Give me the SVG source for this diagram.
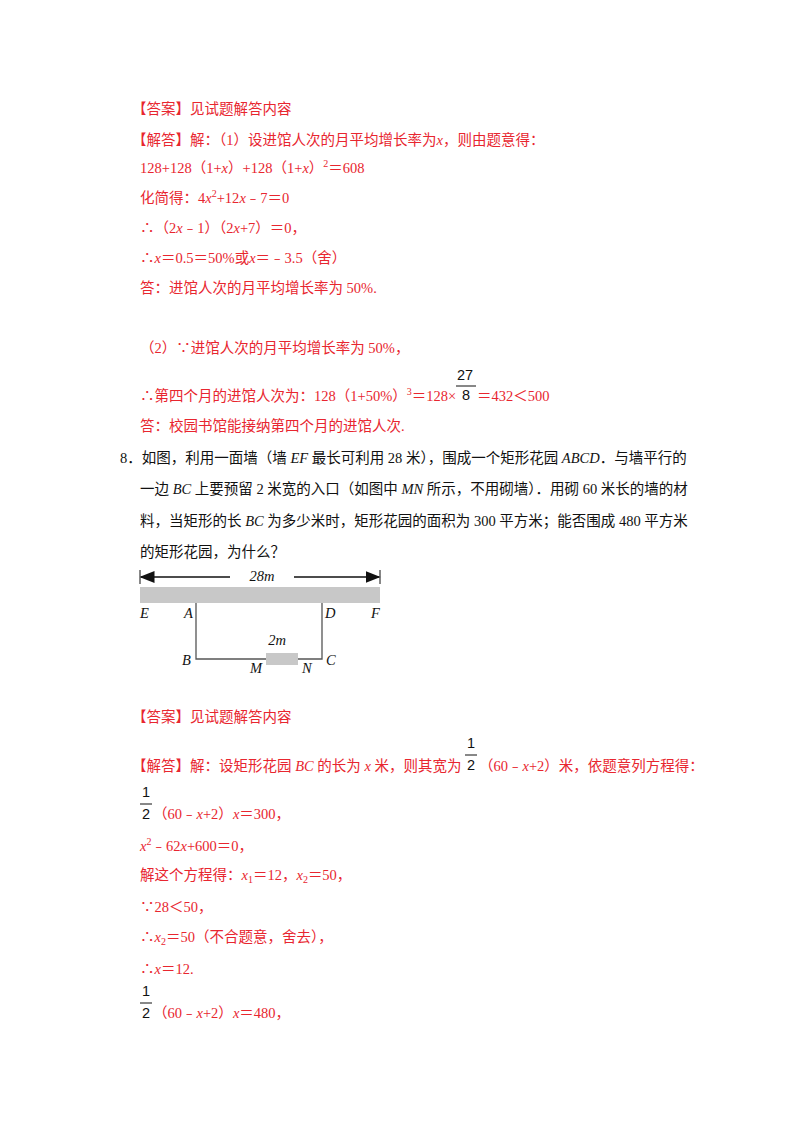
<svg xmlns="http://www.w3.org/2000/svg" width="800" height="1132" viewBox="0 0 800 1132">
<style>
text{font-family:"Liberation Serif","Noto Sans CJK SC",serif;font-size:14.5px}
.r{fill:#e8262f}
.k{fill:#111}
.i{font-style:italic}
.s{font-family:"Liberation Sans",sans-serif}
</style>
<defs><marker id="a" markerWidth="10" markerHeight="8" refX="9" refY="4" orient="auto"><path d="M0,0L10,4L0,8z" fill="#111"/></marker></defs>
<rect width="800" height="1132" fill="#fff"/>
<g class="r">
<text x="132" y="114" class="r">【答案】见试题解答内容</text>
<text x="132" y="145" class="r">【解答】解：（1）设进馆人次的月平均增长率为<tspan class="i">x</tspan>，则由题意得：</text>
<text x="140" y="173" class="r">128+128（1+<tspan class="i">x</tspan>）+128（1+<tspan class="i">x</tspan>）<tspan dy="-6" font-size="10">2</tspan><tspan dy="6">＝608</tspan></text>
<text x="140" y="203" class="r">化简得：4<tspan class="i">x</tspan><tspan dy="-6" font-size="10">2</tspan><tspan dy="6">+12</tspan><tspan class="i">x</tspan>﹣7＝0</text>
<text x="140" y="233" class="r">∴（2<tspan class="i">x</tspan>﹣1）（2<tspan class="i">x</tspan>+7）＝0，</text>
<text x="140" y="263" class="r">∴<tspan class="i">x</tspan>＝0.5＝50%或<tspan class="i">x</tspan>＝﹣3.5（舍）</text>
<text x="140" y="293" class="r">答：进馆人次的月平均增长率为 50%.</text>
<text x="140" y="353" class="r">（2）∵进馆人次的月平均增长率为 50%，</text>
<text x="140" y="401" class="r">∴第四个月的进馆人次为：128（1+50%）<tspan dy="-6" font-size="10">3</tspan><tspan dy="6">＝128×</tspan></text>
<text x="457" y="380" class="k s" font-size="14">27</text>
<line x1="456" y1="386" x2="476" y2="386" stroke="#111"/>
<text x="462" y="400" class="k s" font-size="14">8</text>
<text x="477" y="401" class="r">＝432＜500</text>
<text x="140" y="431" class="r">答：校园书馆能接纳第四个月的进馆人次.</text>
</g>
<g class="k">
<text x="120" y="463" class="k">8．如图，利用一面墙（墙 <tspan class="i">EF</tspan> 最长可利用 28 米），围成一个矩形花园 <tspan class="i">ABCD</tspan>．与墙平行的</text>
<text x="140" y="494" class="k">一边 <tspan class="i">BC</tspan> 上要预留 2 米宽的入口（如图中 <tspan class="i">MN</tspan> 所示，不用砌墙）．用砌 60 米长的墙的材</text>
<text x="140" y="526" class="k">料，当矩形的长 <tspan class="i">BC</tspan> 为多少米时，矩形花园的面积为 300 平方米；能否围成 480 平方米</text>
<text x="140" y="557" class="k">的矩形花园，为什么？</text>
</g>
<g id="figure">
<line x1="140" y1="570" x2="140" y2="584" stroke="#111"/>
<line x1="380" y1="570" x2="380" y2="584" stroke="#111"/>
<line x1="230" y1="577" x2="141" y2="577" stroke="#111" stroke-width="1.5" marker-end="url(#a)"/>
<line x1="294" y1="577" x2="379" y2="577" stroke="#111" stroke-width="1.5" marker-end="url(#a)"/>
<text x="262" y="581" text-anchor="middle" class="k i">28m</text>
<rect x="140" y="587" width="240" height="16" fill="#c8c8c8"/>
<path d="M196,603V659H266M298,659H322V603" fill="none" stroke="#555" stroke-width="1.3"/>
<rect x="266" y="653" width="32" height="12" fill="#c8c8c8"/>
<text x="277" y="645" text-anchor="middle" class="k i">2m</text>
<g class="k i">
<text x="140" y="618">E</text><text x="184" y="618">A</text><text x="325" y="618">D</text><text x="371" y="618">F</text>
<text x="182" y="665">B</text><text x="250" y="673">M</text><text x="302" y="673">N</text><text x="326" y="665">C</text>
</g>
</g>
<g>
<text x="132" y="722" class="r">【答案】见试题解答内容</text>
<text x="132" y="771" class="r">【解答】解：设矩形花园 <tspan class="i">BC</tspan> 的长为 <tspan class="i">x</tspan> 米，则其宽为</text>
<text x="467" y="748" class="k s" font-size="14">1</text>
<line x1="465" y1="755" x2="477" y2="755" stroke="#111"/>
<text x="467" y="770" class="k s" font-size="14">2</text>
<text x="479" y="771" class="r">（60﹣<tspan class="i">x</tspan>+2）米，依题意列方程得：</text>
<text x="142" y="797" class="k s" font-size="14">1</text>
<line x1="140" y1="804" x2="152" y2="804" stroke="#111"/>
<text x="142" y="819" class="k s" font-size="14">2</text>
<text x="153" y="819" class="r">（60﹣<tspan class="i">x</tspan>+2）<tspan class="i">x</tspan>＝300，</text>
<text x="140" y="851" class="r"><tspan class="i">x</tspan><tspan dy="-6" font-size="10">2</tspan><tspan dy="6">﹣62</tspan><tspan class="i">x</tspan>+600＝0，</text>
<text x="140" y="880" class="r">解这个方程得：<tspan class="i">x</tspan><tspan dy="3" font-size="10">1</tspan><tspan dy="-3">＝12，</tspan><tspan class="i">x</tspan><tspan dy="3" font-size="10">2</tspan><tspan dy="-3">＝50，</tspan></text>
<text x="140" y="912" class="r">∵28＜50，</text>
<text x="140" y="942" class="r">∴<tspan class="i">x</tspan><tspan dy="3" font-size="10">2</tspan><tspan dy="-3">＝50（不合题意，舍去），</tspan></text>
<text x="140" y="974" class="r">∴<tspan class="i">x</tspan>＝12.</text>
<text x="142" y="996" class="k s" font-size="14">1</text>
<line x1="140" y1="1003" x2="152" y2="1003" stroke="#111"/>
<text x="142" y="1018" class="k s" font-size="14">2</text>
<text x="153" y="1018" class="r">（60﹣<tspan class="i">x</tspan>+2）<tspan class="i">x</tspan>＝480，</text>
</g>
</svg>
